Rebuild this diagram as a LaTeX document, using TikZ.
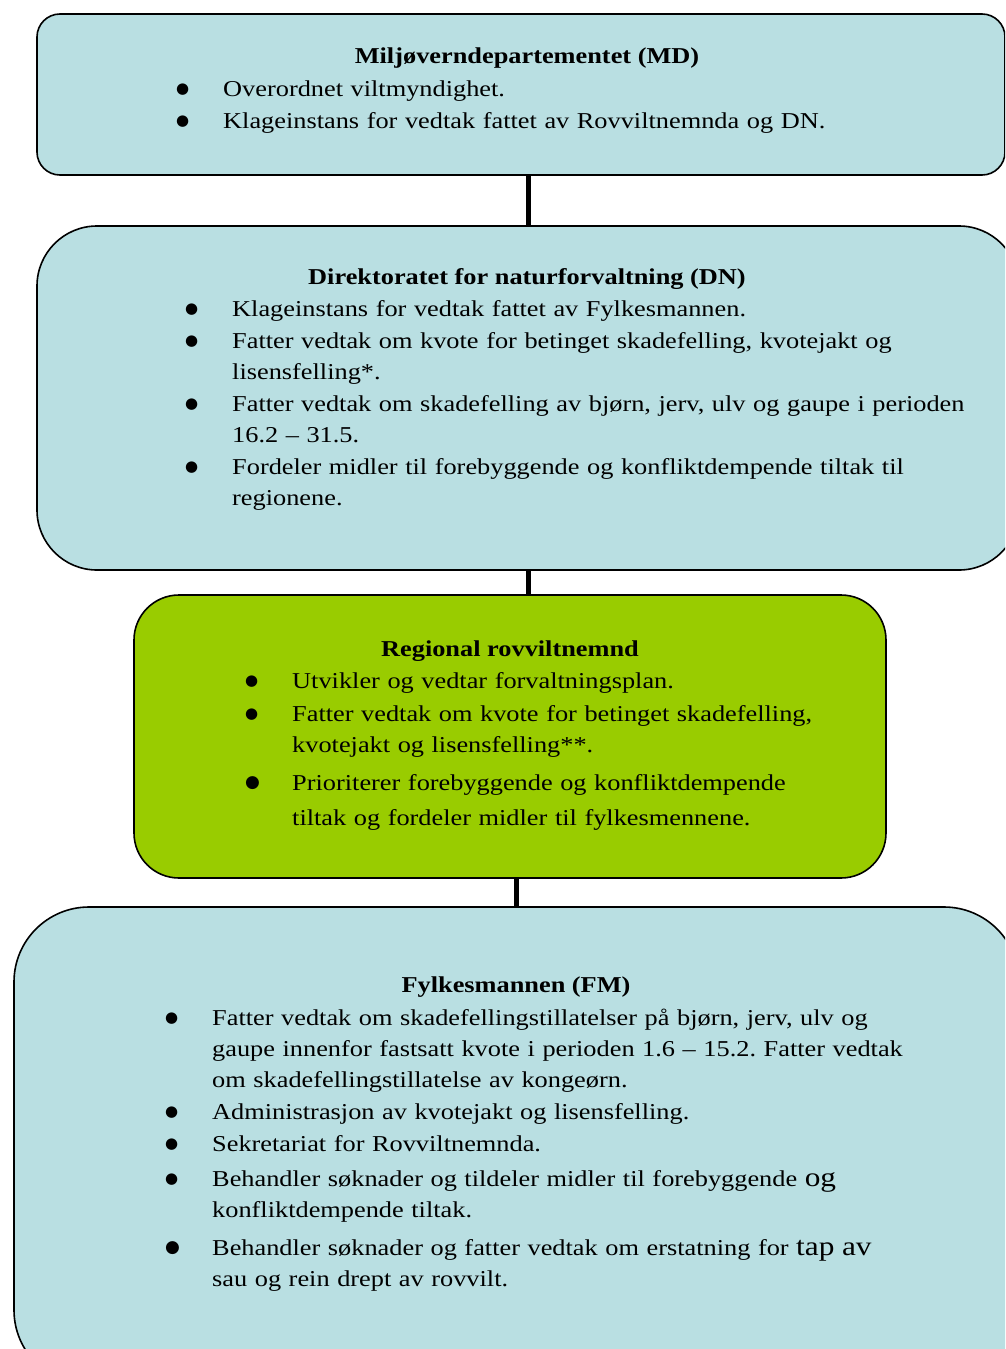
\documentclass[tikz,border=0pt]{standalone}
\usepackage{fontspec}
\setmainfont[FakeStretch=1.16]{Liberation Serif}
\newfontfamily\symfont{DejaVu Sans}
\definecolor{boxblue}{RGB}{185,223,226}
\definecolor{boxgreen}{RGB}{153,204,0}
\newcommand{\prikk}[1][15]{\raisebox{3pt}{\symfont\fontsize{#1}{#1}\selectfont ●}}
\newcommand{\punkt}[1][15]{\hangindent=47pt\hangafter=1\noindent\makebox[47pt][l]{\prikk[#1]}}
\newcommand{\pkt}[2][0pt]{\par\vspace{#1}\punkt#2}
\newcommand{\stor}{\fontsize{27}{31}\selectfont}
\begin{document}
\begin{tikzpicture}[x=1pt,y=-1pt,
  boks/.style={draw=black,line width=1.6pt,inner sep=0pt},
  tittel/.style={anchor=base,inner sep=0pt,font=\fontsize{22.7}{31}\selectfont\bfseries},
  liste/.style={anchor=base west,inner sep=0pt,text width=900pt,align=left,
    font=\fontsize{22.7}{31}\selectfont\frenchspacing\setlength{\parskip}{1pt}},
  linje/.style={line width=5pt}]
\clip (0,0) rectangle (1005,1349);
% boksene
\node[boks,fill=boxblue,rounded corners=23pt,minimum width=968pt,minimum height=161pt] (md) at (521,94.5) {};
\node[boks,fill=boxblue,rounded corners=60pt,minimum width=982pt,minimum height=344pt] (dn) at (528,398) {};
\node[boks,fill=boxgreen,rounded corners=45pt,minimum width=752pt,minimum height=283pt] (rn) at (510,736.5) {};
\node[boks,fill=boxblue,rounded corners=75pt,minimum width=1005pt,minimum height=478pt] (fm) at (516.5,1146) {};
% linjer mellom nivaaene
\draw[linje] (md.south -| dn.north) -- (dn.north);
\draw[linje] (dn.south) -- (dn.south |- rn.north);
\draw[linje] (rn.south -| fm.north) -- (fm.north);
% MD
\node[tittel] (mdtittel) at (527,63) {Miljøverndepartementet (MD)};
\node[liste] (mdliste) at (176,96) {\punkt Overordnet viltmyndighet.
  \pkt{Klageinstans for vedtak fattet av Rovviltnemnda og DN.}\par};
% DN
\node[tittel] (dntittel) at (527,284) {Direktoratet for naturforvaltning (DN)};
\node[liste] (dnliste) at (185,316) {\punkt Klageinstans for vedtak fattet av Fylkesmannen.
  \pkt{Fatter vedtak om kvote for betinget skadefelling, kvotejakt og\newline lisensfelling*.}
  \pkt{Fatter vedtak om skadefelling av bjørn, jerv, ulv og gaupe i perioden\newline 16.2 – 31.5.}
  \pkt{Fordeler midler til forebyggende og konfliktdempende tiltak til\newline regionene.}\par};
% regional rovviltnemnd
\node[tittel] (rntittel) at (510,656) {Regional rovviltnemnd};
\node[liste] (rnliste) at (245,688) {\punkt Utvikler og vedtar forvaltningsplan.
  \pkt[1pt]{Fatter vedtak om kvote for betinget skadefelling,\newline kvotejakt og lisensfelling**.}\par
  {\fontsize{22.7}{35}\selectfont\vspace{2pt}\punkt[17]Prioriterer forebyggende og konfliktdempende\newline tiltak og fordeler midler til fylkesmennene.\par}};
% FM
\node[tittel] (fmtittel) at (516,992) {Fylkesmannen (FM)};
\node[liste] (fmliste) at (165,1025) {\punkt Fatter vedtak om skadefellingstillatelser på bjørn, jerv, ulv og\newline gaupe innenfor fastsatt kvote i perioden 1.6 – 15.2. Fatter vedtak\newline om skadefellingstillatelse av kongeørn.
  \pkt{Administrasjon av kvotejakt og lisensfelling.}
  \pkt{Sekretariat for Rovviltnemnda.}
  \pkt[3pt]{Behandler søknader og tildeler midler til forebyggende {\stor og}\newline konfliktdempende tiltak.}\par
  \vspace{6pt}\punkt[17]Behandler søknader og fatter vedtak om erstatning for {\stor tap av}\newline sau og rein drept av rovvilt.\par};
\end{tikzpicture}
\end{document}
